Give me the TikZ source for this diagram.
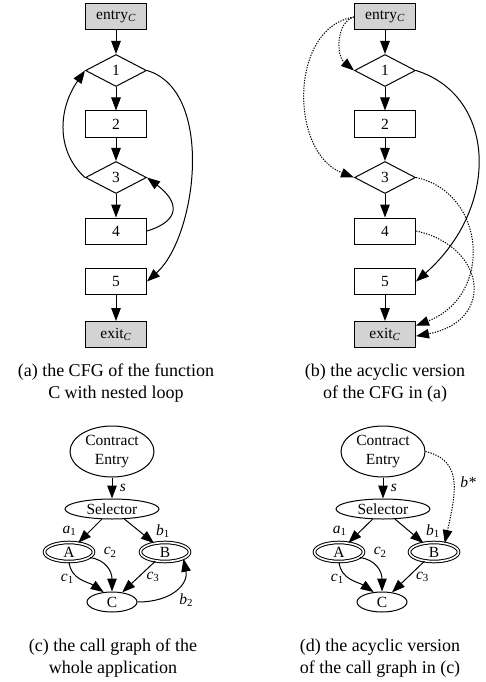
\documentclass[tikz,border=0pt]{standalone}
\usepackage{fontspec}
\setmainfont{Liberation Serif}
\usetikzlibrary{arrows.meta,positioning,shapes.geometric}
\definecolor{termgray}{RGB}{211,211,211}

\begin{document}
\begin{tikzpicture}[
	x=1pt, y=1pt,
	line width=1pt,
	node distance=23.5pt,
	font=\fontsize{15.5}{19}\selectfont,
	blk/.style = {
		draw, rectangle,
		minimum width = 61pt,
		minimum height = 26pt,
		inner sep = 0pt,
	},
	termbox/.style = {blk, fill=termgray},
	dia/.style = {
		draw, diamond, aspect=1.9,
		minimum width = 61pt,
		minimum height = 32pt,
		inner sep = 0pt,
	},
	oval/.style = {draw, ellipse, inner sep=0pt},
	fn/.style = {oval, minimum width=50pt, minimum height=20pt},
	fnd/.style = {oval, double, double distance=1.6pt,
		minimum width=49pt, minimum height=19pt},
	flow/.style = {-{Triangle[length=13pt,width=9.5pt]}},
	flowdot/.style = {flow, dash pattern=on 1.3pt off 1.3pt},
	lbl/.style = {font=\fontsize{15.5}{19}\selectfont\itshape},
	capt/.style = {align=center, font=\fontsize{18}{22}\selectfont},
]
\useasboundingbox (0,0) rectangle (486,-682);

% (a) CFG with nested loop
\node [termbox] (entrya) at (116,-17) {entry\textsubscript{\textit{C}}};
\node [dia, below=of entrya] (a1) {1};
\node [blk, below=of a1] (a2) {2};
\node [dia, below=of a2] (a3) {3};
\node [blk, below=of a3] (a4) {4};
\node [blk, below=of a4] (a5) {5};
\node [termbox, below=26pt of a5] (exita) {exit\textsubscript{\textit{C}}};

\draw[flow] (entrya) -- (a1);
\draw[flow] (a1) -- (a2);
\draw[flow] (a2) -- (a3);
\draw[flow] (a3) -- (a4);
\draw[flow] (a5) -- (exita);
\draw[flow] (a3.west) .. controls +(-28,25) and +(-28,-40) .. (a1.west);
\draw[flow] (a4.east) .. controls +(33,10) and +(33,-25) .. (a3.east);
\draw[flow] (a1.east) .. controls +(68,-20) and +(50,45) .. (a5.east);

\node [capt] (capa) at (116,-383) {(a) the CFG of the function\\C with nested loop};

% (b) acyclic CFG
\node [termbox] (entryb) at (385,-17) {entry\textsubscript{\textit{C}}};
\node [dia, below=of entryb] (b1) {1};
\node [blk, below=of b1] (b2) {2};
\node [dia, below=of b2] (b3) {3};
\node [blk, below=of b3] (b4) {4};
\node [blk, below=of b4] (b5) {5};
\node [termbox, below=26pt of b5] (exitb) {exit\textsubscript{\textit{C}}};

\draw[flow] (entryb) -- (b1);
\draw[flow] (b1) -- (b2);
\draw[flow] (b2) -- (b3);
\draw[flow] (b3) -- (b4);
\draw[flow] (b5) -- (exitb);
\draw[flow] (b1.east) .. controls +(80,-25) and +(85,75) .. (b5.east);
\draw[flowdot] (entryb.west) .. controls +(-18,-5) and +(-18,15) .. (b1.west);
\draw[flowdot] (entryb.west) .. controls +(-65,-10) and +(-65,25) .. (b3.west);
\draw[flowdot] (b3.east) .. controls +(70,-15) and +(78,30) .. (exitb.16);
\draw[flowdot] (b4.east) .. controls +(70,-15) and +(80,15) .. (exitb.-3);

\node [capt] (capb) at (385,-383) {(b) the acyclic version\\of the CFG in (a)};

% (c) call graph
\node [oval, align=center, minimum width=84pt, minimum height=51pt] (cec) at (112,-451.5) {Contract\\Entry};
\node [oval, minimum width=94pt, minimum height=20pt] (selc) at (112,-509) {Selector};
\node [fnd] (ac) at (69,-552) {A};
\node [fnd] (bc) at (165,-552) {B};
\node [fn] (cc) at (112,-602) {C};

\draw[flow] (cec) -- node[lbl, right=4pt] {s} (selc);
\draw[flow] (selc) -- node[lbl, left=10pt] {a\textsubscript{\upshape 1}} (ac);
\draw[flow] (selc) -- node[lbl, right=13pt] {b\textsubscript{\upshape 1}} (bc);
\draw[flow] (ac.south) .. controls +(2,-18) and +(-15,10) .. node[lbl, pos=.45, left=2pt] {c\textsubscript{\upshape 1}} (cc.130);
\draw[flow] (ac.-15) .. controls +(16,-2) and +(0,20) .. node[lbl, pos=.25, above right=0pt] {c\textsubscript{\upshape 2}} (cc.north);
\draw[flow] (bc) -- node[lbl, right=4pt] {c\textsubscript{\upshape 3}} (cc);
\draw[flow] (cc.east) .. controls +(35,0) and +(5,-25) .. node[lbl, below right] {b\textsubscript{\upshape 2}} (bc.-20);

\node [capt] (capc) at (113,-658.5) {(c) the call graph of the\\whole application};

% (d) acyclic call graph
\node [oval, align=center, minimum width=84pt, minimum height=51pt] (ced) at (383,-451.5) {Contract\\Entry};
\node [oval, minimum width=94pt, minimum height=20pt] (seld) at (383,-509) {Selector};
\node [fnd] (ad) at (339,-552) {A};
\node [fnd] (bd) at (434,-552) {B};
\node [fn] (cd) at (382,-602) {C};

\draw[flow] (ced) -- node[lbl, right=4pt] {s} (seld);
\draw[flow] (seld) -- node[lbl, left=10pt] {a\textsubscript{\upshape 1}} (ad);
\draw[flow] (seld) -- node[lbl, right=13pt] {b\textsubscript{\upshape 1}} (bd);
\draw[flow] (ad.south) .. controls +(2,-18) and +(-15,10) .. node[lbl, pos=.45, left=2pt] {c\textsubscript{\upshape 1}} (cd.130);
\draw[flow] (ad.-15) .. controls +(16,-2) and +(0,20) .. node[lbl, pos=.25, above right=0pt] {c\textsubscript{\upshape 2}} (cd.north);
\draw[flow] (bd) -- node[lbl, right=4pt] {c\textsubscript{\upshape 3}} (cd);
\draw[flowdot] (ced.east) .. controls +(38,-9) and +(11,50) .. node[lbl, right=3pt] {b*} (bd.40);

\node [capt] (capd) at (380,-658.5) {(d) the acyclic version\\of the call graph in (c)};

\end{tikzpicture}
\end{document}
